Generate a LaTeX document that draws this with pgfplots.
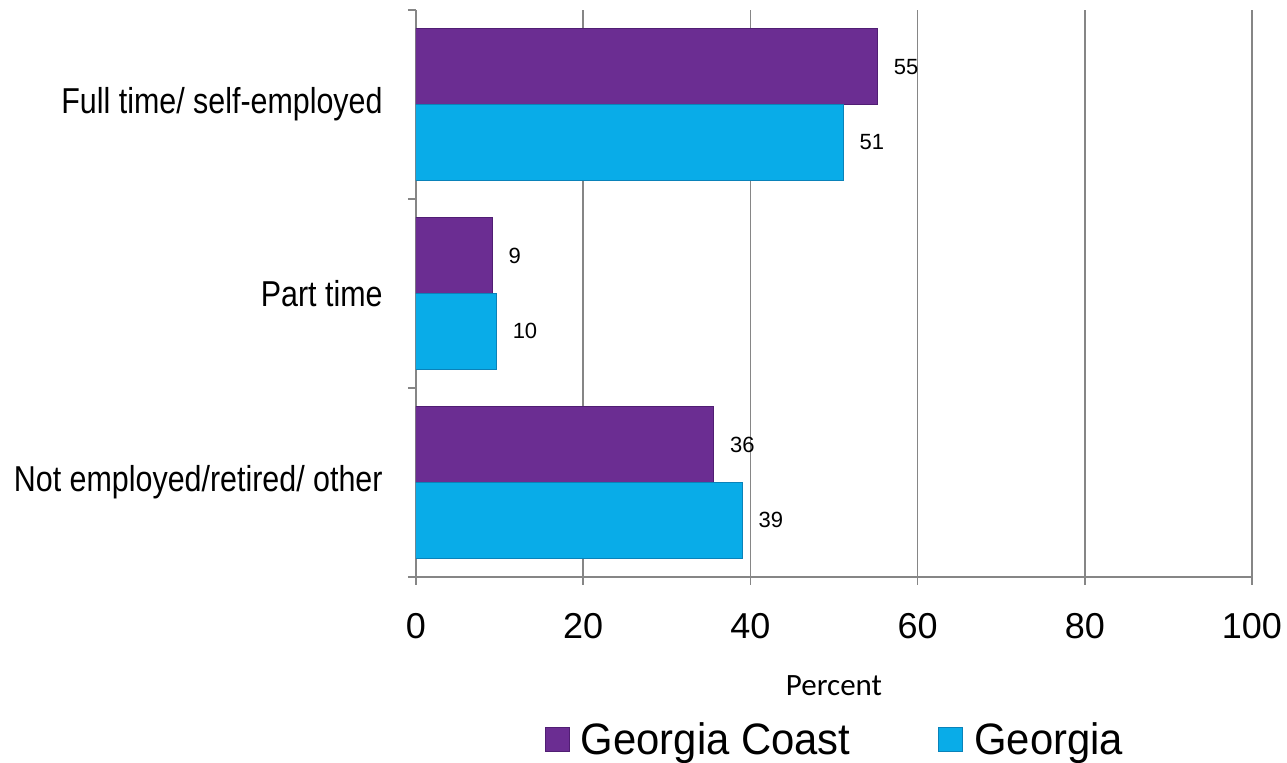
\documentclass[border=0pt]{standalone}
\usepackage{pgfplots}
\pgfplotsset{compat=1.18}
\usepackage{fontspec}
\setmainfont{Liberation Sans}
\newfontfamily\carlito{Carlito}
\definecolor{coastpurple}{RGB}{107,45,146}
\definecolor{coastedge}{RGB}{80,30,115}
\definecolor{gacyan}{RGB}{9,172,232}
\definecolor{gaedge}{RGB}{10,130,185}
\definecolor{gridgray}{RGB}{134,134,134}
\begin{document}
\begin{tikzpicture}
\useasboundingbox (-208pt,-93pt) rectangle (435.5pt,288.5pt);
\begin{axis}[
  at={(0,0)}, anchor=south west,
  scale only axis, width=418pt, height=283.5pt,
  xmin=0, xmax=100, ymin=-0.5, ymax=2.5,
  axis x line*=bottom, axis y line*=left,
  axis line style={gridgray, line width=0.8pt},
  xtick={0,20,...,100},
  xmajorgrids, grid style={gridgray, line width=0.8pt},
  tick style={gridgray, line width=0.8pt},
  tick align=outside,
  major tick length=4pt,
  /pgf/number format/assume math mode=true,
  xticklabel style={font=\fontsize{18}{20}\selectfont, inner sep=0pt, yshift=-14pt},
  ytick={-0.5,0.5,1.5,2.5},
  yticklabels={},
  extra y ticks={0,1,2},
  extra y tick labels={\scalebox{0.845}[1]{Not employed/retired/ other},\scalebox{0.845}[1]{Part time},\scalebox{0.845}[1]{Full time/ self-employed}},
  extra y tick style={major tick length=0pt, yticklabel style={font=\fontsize{18}{20}\selectfont, anchor=east, inner sep=0pt, xshift=-16.5pt}},
  xlabel={\carlito\fontsize{15.5}{17}\selectfont Percent},
  xlabel style={at={(axis description cs:0.5,0)}, anchor=center, yshift=-54.5pt},
  xbar, bar width=0.4, bar shift=0pt,
  point meta=x,
  nodes near coords={\pgfmathprintnumber[fixed,precision=0]{\pgfplotspointmeta}},
  every node near coord/.append style={font=\fontsize{11}{13}\selectfont, anchor=west, inner sep=0pt, xshift=8pt, text=black},
  legend columns=2,
  legend style={at={(axis description cs:0.5,0)}, anchor=center, yshift=-81.5pt, draw=none, fill=none,
    font=\fontsize{22}{24}\selectfont, column sep=0pt, nodes={inner sep=0pt},
    /tikz/every odd column/.append style={column sep=5.5pt},
    /tikz/every even column/.append style={column sep=44pt}},
  legend image code/.code={\filldraw[#1] (0pt,-6pt) rectangle (12pt,6pt);},
]
\addplot[fill=coastpurple, draw=coastedge, line width=0.5pt] coordinates {(55.2,2.2) (9.1,1.2) (35.6,0.2)};
\addlegendentry{\scalebox{0.95}[1]{Georgia Coast}}
\addplot[fill=gacyan, draw=gaedge, line width=0.5pt] coordinates {(51.1,1.8) (9.6,0.8) (39.0,-0.2)};
\addlegendentry{\scalebox{0.95}[1]{Georgia}}
\end{axis}
\end{tikzpicture}
\end{document}
